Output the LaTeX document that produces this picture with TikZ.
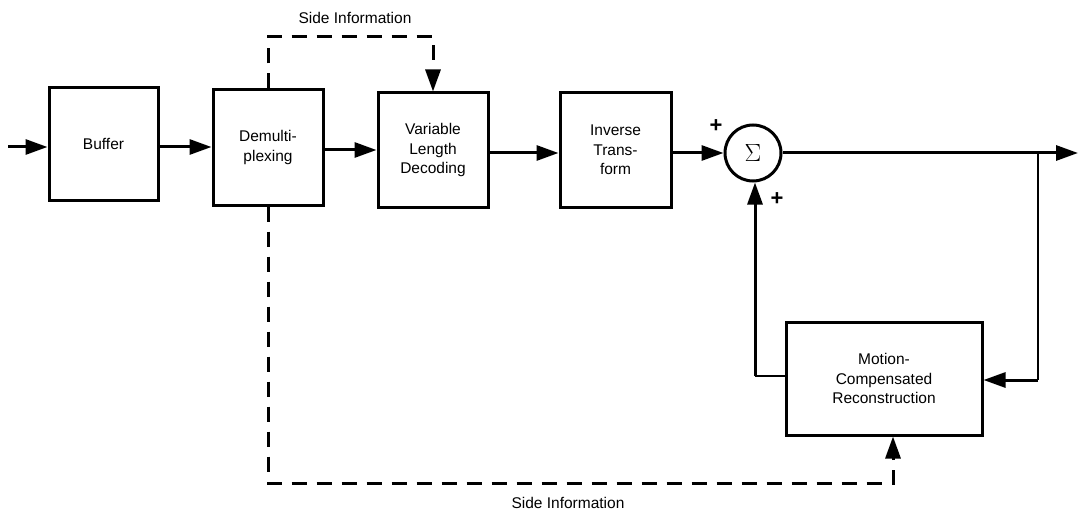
\documentclass[tikz,border=0pt]{standalone}
\usepackage{fontspec}
\setmainfont{Liberation Sans}
\usetikzlibrary{arrows.meta}
\begin{document}
\begin{tikzpicture}[x=1pt,y=-1pt,
  blk/.style={draw,line width=3pt,align=center,inner sep=0pt,
    font=\fontsize{15.5}{19.5}\selectfont},
  con/.style={line width=3pt,-{Triangle[length=22pt,width=15pt]}},
  plain/.style={line width=2.6pt},
  sideinfo/.style={line width=3pt,dash pattern=on 15pt off 10pt},
  lbl/.style={font=\fontsize{15.5}{17}\selectfont,inner sep=0pt},
  sgn/.style={font=\fontsize{22}{22}\selectfont\bfseries,inner sep=0pt}]
\useasboundingbox (0,0) rectangle (1078,513);
\node[blk,minimum width=109pt,minimum height=112pt] (buf) at (103.5,144) {Buffer};
\node[blk,minimum width=110pt,minimum height=115pt] (dmx) at (268,147.5) {Demulti-\\plexing};
\node[blk,minimum width=110pt,minimum height=114pt] (vld) at (433,150) {Variable\\Length\\Decoding};
\node[blk,minimum width=111pt,minimum height=114pt] (it) at (615.5,150) {Inverse\\Trans-\\form};
\node[draw,circle,line width=3pt,minimum size=56pt,inner sep=0pt] (sum) at (753,153) {\fontsize{26}{26}\selectfont$\Sigma$};
\node[blk,minimum width=196pt,minimum height=113pt] (mc) at (884,378.5) {Motion-\\Compensated\\Reconstruction};
\coordinate (in) at (8,147);
\coordinate (out) at (1078,153);
\coordinate (br) at (1038,153);
\coordinate (tl) at (268,37);
\coordinate (tr) at (433,37);
\coordinate (bl) at (268,483);
\coordinate (bbr) at (893,483);
\coordinate (fl) at (755,376);
\coordinate (fr) at (1038,380);
% main path
\draw[con] (in) -- (buf.west |- in);
\draw[con] (buf.east |- 0,147) -- (dmx.west |- 0,147);
\draw[con] (dmx.east |- 0,150) -- (vld.west |- 0,150);
\draw[con] (vld.east |- 0,153) -- (it.west |- 0,153);
\draw[con] (it.east |- sum.west) -- (sum.west);
\draw[con] (sum.east) -- (out);
% feedback
\draw[plain] (br) -- (fr);
\draw[con] (fr) -- (mc.east |- fr);
\draw[plain] (mc.west |- fl) -- (fl);
\draw[con] (fl) -- (fl |- sum.south);
% side information
\draw[sideinfo] (dmx.north) -- (tl) -- (tr) -- ++(0,34);
\draw[con] (433,70) -- (vld.north);
\draw[sideinfo] (dmx.south) -- (bl) -- (bbr) -- ++(0,-23);
\draw[con] (893,460) -- (mc.south -| bbr);
% labels
\node[lbl] (si1) at (355,18) {Side Information};
\node[lbl] (si2) at (568,503) {Side Information};
\node[sgn] (p1) at (716,126) {+};
\node[sgn] (p2) at (777,199) {+};
\end{tikzpicture}
\end{document}
